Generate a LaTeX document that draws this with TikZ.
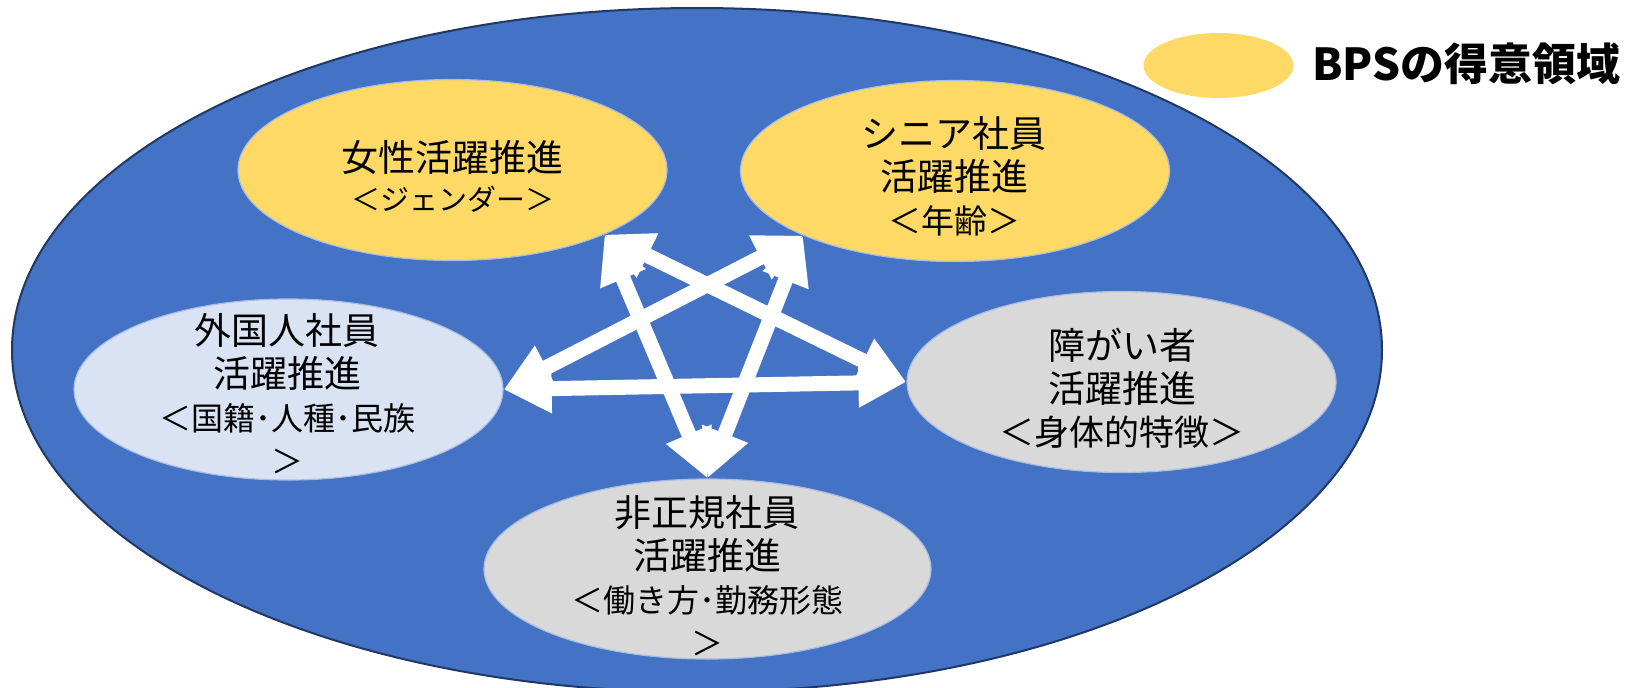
\documentclass[tikz,border=0pt]{standalone}
\usepackage{fontspec}
\setmainfont{Noto Sans CJK JP}
\usetikzlibrary{arrows.meta,shapes.geometric}
\definecolor{bpsblue}{HTML}{4472C4}
\definecolor{bpsnavy}{HTML}{203864}
\definecolor{bpsyellow}{HTML}{FFD966}
\definecolor{bpslightblue}{HTML}{DAE3F3}
\definecolor{bpsgrey}{HTML}{D9D9D9}
\definecolor{bpsedge}{HTML}{A9BDE3}
\begin{document}
\begin{tikzpicture}[x=0.5pt,y=-0.5pt,
  area/.style={ellipse, draw=bpsedge, line width=0.6pt, inner sep=0pt,
               minimum width=214.5pt, minimum height=90.5pt},
  caption/.style={align=center, text=black, inner sep=0pt,
                  font=\fontsize{18.5}{21.5}\selectfont},
  link/.style={draw=white, line width=7.5pt,
               {Triangle[width=23pt,length=24pt]}-{Triangle[width=23pt,length=24pt]}}]
\useasboundingbox (0,0) rectangle (1640,687);
\fill[white] (0,0) rectangle (1640,687);
% stage
\node[ellipse, fill=bpsblue, draw=bpsnavy, line width=1pt, inner sep=0pt,
      minimum width=685pt, minimum height=342pt] (stage) at (697,350) {};
% legend
\node[ellipse, fill=bpsyellow, inner sep=0pt, minimum width=75pt, minimum height=32.5pt]
  (key) at (1218.5,65.5) {};
\node[anchor=west, inner sep=0pt, font=\bfseries\fontsize{22}{26}\selectfont] (keytext)
  at (1312,64) {BPSの得意領域};
% areas
\node[area, fill=bpsyellow] (women) at (452.5,170) {};
\node[area, fill=bpsyellow] (senior) at (955,171) {};
\node[area, fill=bpslightblue] (foreign) at (288.5,389.5) {};
\node[area, fill=bpsgrey] (disab) at (1121.5,382) {};
\node[area, fill=bpsgrey, minimum width=223.5pt, minimum height=90pt] (nonreg) at (707.5,569) {};
% captions
\node[caption, font=\fontsize{18.5}{19.5}\selectfont] (womentext) at (452.5,176.5)
  {女性活躍推進\\{\fontsize{14.5}{19.5}\selectfont ＜ジェンダー＞}};
\node[caption] (seniortext) at (954,176.5)
  {シニア社員\\活躍推進\\{\fontsize{16.5}{21.5}\selectfont ＜年齢＞}};
\node[caption] (foreigntext) at (287,393.5)
  {外国人社員\\活躍推進\\{\fontsize{16}{21.5}\selectfont ＜国籍･人種･民族}\\{\fontsize{16}{21.5}\selectfont ＞}};
\node[caption] (disabtext) at (1122,388.5)
  {障がい者\\活躍推進\\{\fontsize{17.5}{21.5}\selectfont ＜身体的特徴＞}};
\node[caption] (nonregtext) at (707,576)
  {非正規社員\\活躍推進\\{\fontsize{16}{21.5}\selectfont ＜働き方･勤務形態}\\{\fontsize{16}{21.5}\selectfont ＞}};
% links
\draw[link] (women.-23) -- (disab.180);
\draw[link] (women.-23) -- (nonreg.90);
\draw[link] (senior.-157) -- (foreign.0);
\draw[link] (senior.-157) -- (nonreg.90);
\draw[link] (foreign.0) -- (disab.180);
\end{tikzpicture}
\end{document}
